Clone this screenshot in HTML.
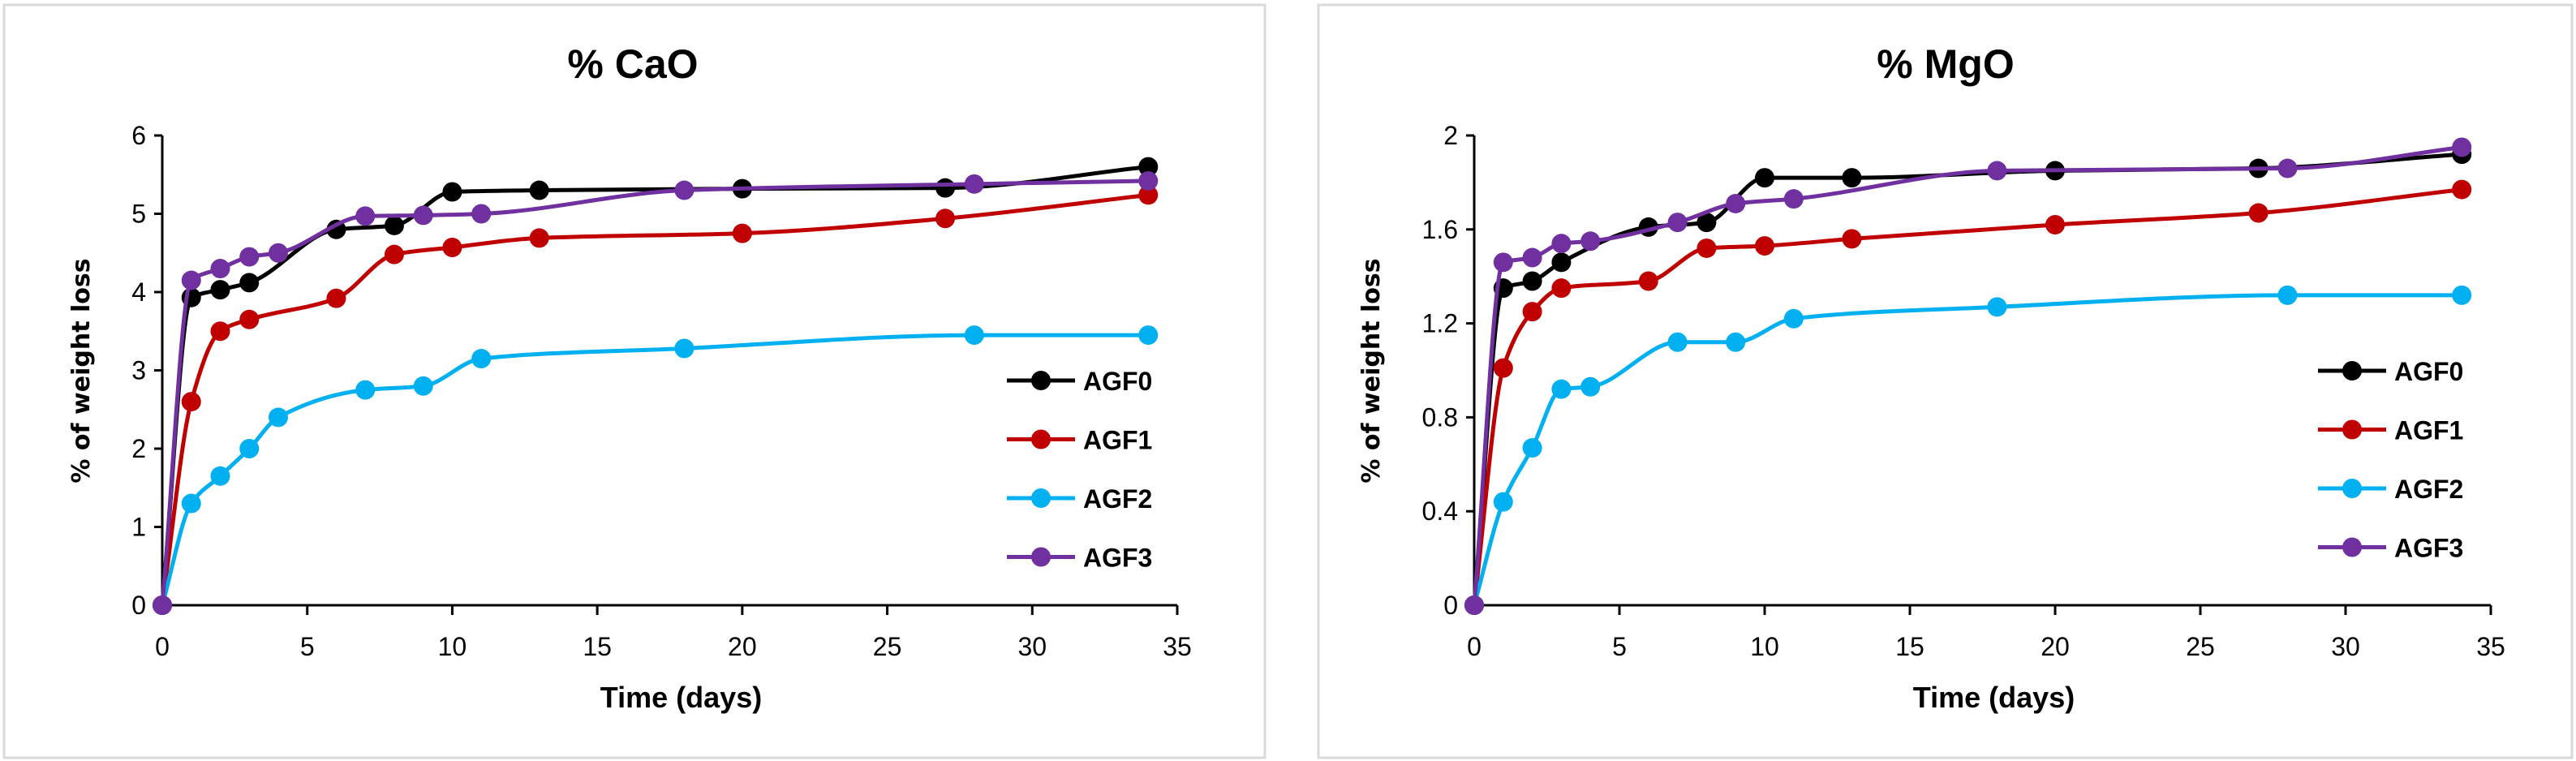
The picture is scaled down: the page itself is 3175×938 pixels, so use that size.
<!DOCTYPE html>
<html><head><meta charset="utf-8">
<style>
html,body{margin:0;padding:0;background:#fff;}
svg{display:block;}
text{font-family:"Liberation Sans Narrow","Liberation Sans",sans-serif;fill:#000;}
</style></head>
<body>
<svg id="svg" width="3175" height="938" viewBox="0 0 3175 938" xmlns="http://www.w3.org/2000/svg">
<rect x="5" y="6" width="1554" height="928" fill="#fff" stroke="#d9d9d9" stroke-width="3"/>
<rect x="1625" y="6" width="1545" height="928" fill="#fff" stroke="#d9d9d9" stroke-width="3"/>
</svg>
<script>
const seriesNames = ["AGF0","AGF1","AGF2","AGF3"];
const seriesColors = ["#000000","#c00000","#00b0f0","#7030a0"];
const xTickLabels = [0,5,10,15,20,25,30,35];
// CaO
const caoX0 = [0,1,2,3,6,8,10,13,20,27,34];
const caoY0 = [0,3.93,4.03,4.12,4.8,4.85,5.28,5.3,5.32,5.33,5.6];
const caoX1 = [0,1,2,3,6,8,10,13,20,27,34];
const caoY1 = [0,2.6,3.5,3.65,3.92,4.48,4.57,4.69,4.75,4.94,5.24];
const caoX2 = [0,1,2,3,4,7,9,11,18,28,34];
const caoY2 = [0,1.3,1.65,2.0,2.4,2.75,2.8,3.15,3.28,3.45,3.45];
const caoX3 = [0,1,2,3,4,7,9,11,18,28,34];
const caoY3 = [0,4.15,4.3,4.45,4.5,4.97,4.98,5.0,5.3,5.38,5.42];
const caoYTicks = [0,1,2,3,4,5,6];
// MgO
const mgoX0 = [0,1,2,3,6,8,10,13,20,27,34];
const mgoY0 = [0,1.35,1.38,1.46,1.61,1.63,1.82,1.82,1.85,1.86,1.92];
const mgoX1 = [0,1,2,3,6,8,10,13,20,27,34];
const mgoY1 = [0,1.01,1.25,1.35,1.38,1.52,1.53,1.56,1.62,1.67,1.77];
const mgoX2 = [0,1,2,3,4,7,9,11,18,28,34];
const mgoY2 = [0,0.44,0.67,0.92,0.93,1.12,1.12,1.22,1.27,1.32,1.32];
const mgoX3 = [0,1,2,3,4,7,9,11,18,28,34];
const mgoY3 = [0,1.46,1.48,1.54,1.55,1.63,1.71,1.73,1.85,1.86,1.95];
const mgoYTicks = ["0","0.4","0.8","1.2","1.6","2"];

const NS="http://www.w3.org/2000/svg";
const svg=document.getElementById('svg');
function mk(tag,attrs,parent){const e=document.createElementNS(NS,tag);for(const k in attrs)e.setAttribute(k,attrs[k]);(parent||svg).appendChild(e);return e;}

// monotone cubic (Fritsch-Carlson) in screen space
function smoothPath(pts){
  const n=pts.length;
  const dx=[],dy=[],m=[];
  for(let i=0;i<n-1;i++){dx.push(pts[i+1][0]-pts[i][0]);dy.push(pts[i+1][1]-pts[i][1]);m.push(dy[i]/dx[i]);}
  const t=[m[0]];
  for(let i=1;i<n-1;i++){
    if(m[i-1]*m[i]<=0)t.push(0);
    else{const w1=2*dx[i]+dx[i-1],w2=dx[i]+2*dx[i-1];t.push((w1+w2)/(w1/m[i-1]+w2/m[i]));}
  }
  t.push(m[n-2]);
  let d=`M${pts[0][0]},${pts[0][1]}`;
  for(let i=0;i<n-1;i++){
    const h=dx[i]/3;
    d+=` C${pts[i][0]+h},${pts[i][1]+t[i]*h} ${pts[i+1][0]-h},${pts[i+1][1]-t[i+1]*h} ${pts[i+1][0]},${pts[i+1][1]}`;
  }
  return d;
}

function chart(cfg){
  const g=mk('g',{});
  
  
  const xs=v=>cfg.x0+(cfg.x1-cfg.x0)*v/35;
  const ys=v=>cfg.y0-(cfg.y0-cfg.y1)*v/cfg.ymax;
  const t=mk('text',{x:cfg.titleX,y:96,'font-size':50,'font-weight':'bold','text-anchor':'middle'},g);
  t.textContent=cfg.title;
  
  
  const ax=mk('path',{d:`M${cfg.x0},${ys(cfg.ymax)} V${cfg.y0} H${cfg.x1}`,stroke:'#000','stroke-width':3,fill:'none'},g);
  
  
  cfg.yTicks.forEach(v=>{
    const y=ys(parseFloat(v));
    mk('line',{x1:cfg.x0-10,x2:cfg.x0,y1:y,y2:y,stroke:'#000','stroke-width':3},g);
    const tx=mk('text',{x:cfg.x0-20,y:y+11,'font-size':32,'text-anchor':'end'},g);
    tx.textContent=v;
    
    
  });
  xTickLabels.forEach(v=>{
    const x=xs(v);
    mk('line',{x1:x,x2:x,y1:cfg.y0,y2:cfg.y0+12,stroke:'#000','stroke-width':3},g);
    const tx=mk('text',{x:x,y:808,'font-size':32,'text-anchor':'middle'},g);
    tx.textContent=v;
    
    
  });
  const xt=mk('text',{x:(cfg.x0+cfg.x1)/2+14,y:872,'font-size':36,'font-weight':'bold','text-anchor':'middle'},g);
  xt.textContent='Time (days)';
  
  
  const yt=mk('text',{x:0,y:0,'font-size':30,'font-weight':'bold','text-anchor':'middle',transform:`translate(${cfg.ytX},457) rotate(-90)`,style:'font-family:"DejaVu Sans",sans-serif'},g);
  yt.textContent='% of weight loss';
  
  
  cfg.series.forEach((s,i)=>{
    const pts=s[0].map((xv,j)=>[xs(xv),ys(s[1][j])]);
    const p=mk('path',{d:smoothPath(pts),stroke:seriesColors[i],'stroke-width':5,fill:'none'},g);
    
    
    pts.forEach(pt=>{
      const c=mk('circle',{cx:pt[0],cy:pt[1],r:12,fill:seriesColors[i]},g);
      
      
    });
    const ly=cfg.legY+i*72.5;
    const lg=mk('g',{},g);
    
    
    mk('line',{x1:cfg.legX,x2:cfg.legX+84,y1:ly,y2:ly,stroke:seriesColors[i],'stroke-width':5},lg);
    mk('circle',{cx:cfg.legX+42,cy:ly,r:12,fill:seriesColors[i]},lg);
    const lt=mk('text',{x:cfg.legX+94,y:ly+12,'font-size':32,'font-weight':'bold'},lg);
    lt.textContent=seriesNames[i];
  });
}
chart({id:'cao',title:'% CaO',titleX:780,x0:200,x1:1451,y0:746,y1:167,ymax:6,yTicks:caoYTicks.map(String),ytX:110,legX:1241,legY:469,
  series:[[caoX0,caoY0],[caoX1,caoY1],[caoX2,caoY2],[caoX3,caoY3]]});
chart({id:'mgo',title:'% MgO',titleX:2398,x0:1817,x1:3070,y0:746,y1:167,ymax:2,yTicks:mgoYTicks,ytX:1700,legX:2857,legY:457,
  series:[[mgoX0,mgoY0],[mgoX1,mgoY1],[mgoX2,mgoY2],[mgoX3,mgoY3]]});
</script>
</body></html>
